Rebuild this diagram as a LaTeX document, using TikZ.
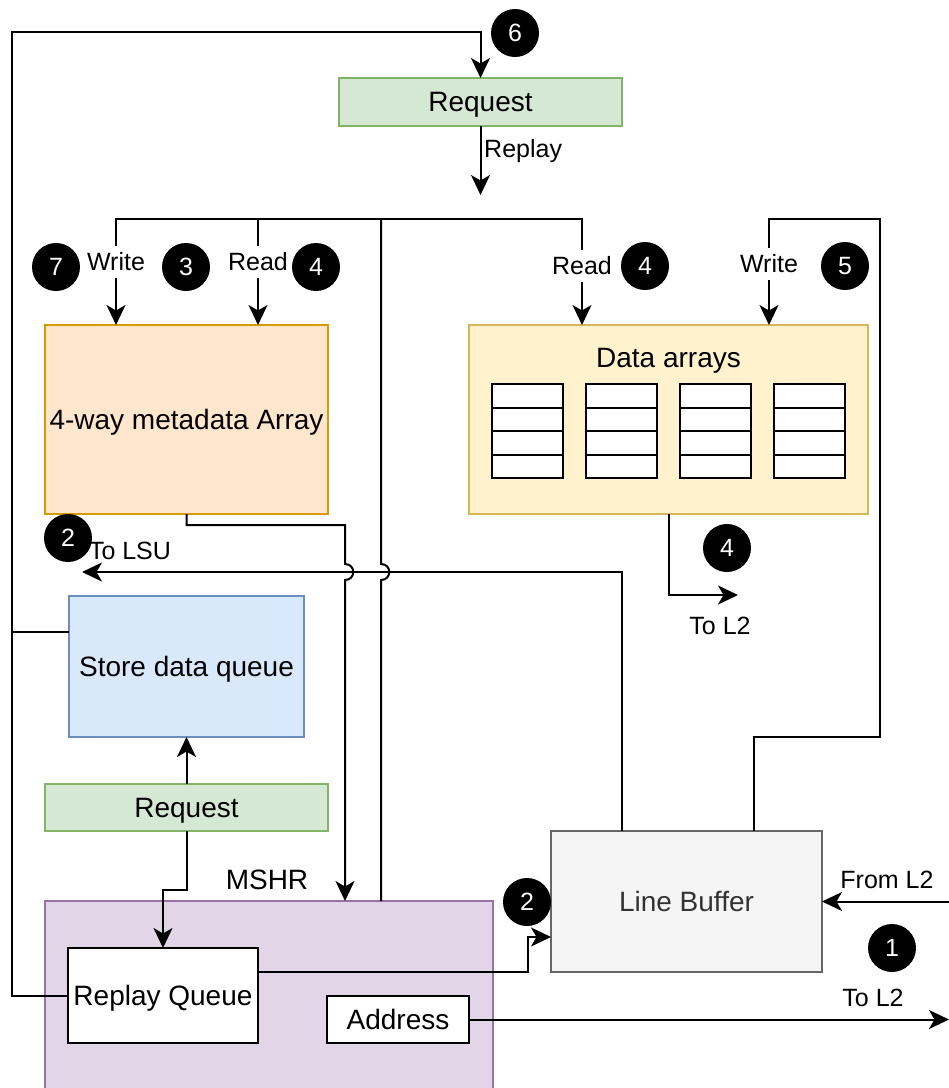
\documentclass[tikz,border=0pt]{standalone}
\usepackage{fontspec}
\setmainfont{Liberation Sans}
\usetikzlibrary{arrows.meta,calc}

\definecolor{grnF}{HTML}{D5E8D4}\definecolor{grnD}{HTML}{82B366}
\definecolor{orgF}{HTML}{FFE6CC}\definecolor{orgD}{HTML}{D79B00}
\definecolor{ylwF}{HTML}{FFF2CC}\definecolor{ylwD}{HTML}{D6B656}
\definecolor{bluF}{HTML}{DAE8FC}\definecolor{bluD}{HTML}{6C8EBF}
\definecolor{prpF}{HTML}{E1D5E7}\definecolor{prpD}{HTML}{9673A6}
\definecolor{gryF}{HTML}{F5F5F5}\definecolor{gryD}{HTML}{666666}
\definecolor{gryT}{HTML}{333333}

\newcommand{\mainsz}{\fontsize{28}{34}\selectfont}
\newcommand{\lblsz}{\fontsize{25}{30}\selectfont}

\begin{document}
\begin{tikzpicture}[x=1pt,y=-1pt,
  % line-box metrics (ascent/descent) of the two text sizes
  bigline/.style={font=\mainsz, text height=25.3pt, text depth=5.9pt},
  smallline/.style={font=\lblsz, text height=22.6pt, text depth=5.3pt},
  box/.style={draw, line width=2pt, inner sep=0pt, outer sep=0pt, bigline},
  wire/.style={line width=2pt},
  arr/.style={wire, -{Stealth[length=20pt,width=19pt,inset=5.5pt]}},
  tag/.style={smallline, inner sep=1pt},
  onwire/.style={tag, fill=white, inner xsep=2pt, inner ysep=2pt},
  badge/.style={circle, fill=black, text=white, minimum size=48pt, inner sep=0pt, smallline}
]
\useasboundingbox (0,0) rectangle (949,1088);
\clip (0,0) rectangle (949,1088);

% ---- blocks ----
\node[box, fill=grnF, draw=grnD, minimum width=283pt, minimum height=48pt] (reqTop) at (480.5,102) {Request};
\node[box, fill=orgF, draw=orgD, minimum width=283pt, minimum height=189pt] (meta) at (186.5,419.5) {4-way metadata Array};
\node[box, fill=ylwF, draw=ylwD, minimum width=399pt, minimum height=189pt] (data) at (668.5,419.5) {};
\node[bigline, inner sep=0pt] (dataTitle) at (668.5,358) {Data arrays};
\foreach \x in {492,586,680,774}{
  \draw[line width=2pt, fill=white] (\x,384) rectangle (\x+71,478);
  \foreach \y in {407.5,431,454.5}{\draw[line width=2pt] (\x,\y) -- (\x+71,\y);}
}
\node[box, fill=bluF, draw=bluD, minimum width=235pt, minimum height=141pt] (sdq) at (186.5,666.5) {Store data queue};
\node[box, fill=grnF, draw=grnD, minimum width=283pt, minimum height=47pt] (reqLow) at (186.5,807.5) {Request};
\node[box, fill=prpF, draw=prpD, minimum width=448pt, minimum height=210pt] (mshr) at (269,1006) {};
\node[bigline, inner sep=0pt] (mshrLbl) at (267,880) {MSHR};
\node[box, fill=white, draw=black, minimum width=190pt, minimum height=95pt] (rq) at (163,995.5) {Replay Queue};
\node[box, fill=white, draw=black, minimum width=142pt, minimum height=47pt] (addr) at (398,1019.5) {Address};
\node[box, fill=gryF, draw=gryD, text=gryT, minimum width=271pt, minimum height=141pt] (lb) at (686.5,901.5) {Line Buffer};

% ---- free ends and corners ----
\coordinate (loopTL) at (12,32);
\coordinate (replayEnd) at (480.5,195);
\coordinate (busJ) at (381,219);
\coordinate (lsuEnd) at (82,572);
\coordinate (dataL2) at (738,595);
\coordinate (wbR) at (880,219);
\coordinate (fromL2) at (949,901.5);
\coordinate (toL2) at (949,1019.5);

% ---- connectors ----
% replay loop back to the request
\draw[arr] (rq.west) -| (loopTL) -| (reqTop.north);
\draw[wire] ($(sdq.north west)+(0,36)$) -- ($(loopTL |- sdq.north west)+(0,36)$);
\draw[arr] (reqTop.south) -- (replayEnd);

% bus from the MSHR to the arrays (hops over the LSU line)
\draw[wire] ($(mshr.north west)+(336,0)$) -- (381,580) .. controls (392,580) and (392,564) .. (381,564) -- (busJ);
\draw[arr] (busJ) -| ($(meta.north west)+(71,0)$);
\draw[arr] (busJ) -| ($(meta.north west)+(213,0)$);
\draw[arr] (busJ) -| ($(data.north west)+(113,0)$);

% metadata result into the MSHR
\draw[arr] (meta.south) -- ++(0,11) -| (345,564) .. controls (356,564) and (356,580) .. (345,580) -- ($(mshr.north west)+(300,0)$);

% line buffer to the LSU
\draw[arr] ($(lb.north west)+(71,0)$) |- (lsuEnd);

% data arrays to L2
\draw[arr] (data.south) |- (dataL2);

% line buffer write-back into the data arrays
\draw[arr] ($(lb.north west)+(203,0)$) -- ++(0,-94) -| (wbR) -| ($(data.north west)+(300,0)$);

% store path
\draw[arr] (reqLow.north) -- (sdq.south);
\draw[arr] (reqLow.south) -- ++(0,59) -| (rq.north);

% replay queue to the line buffer
\draw[arr] ($(rq.north east)+(0,24)$) -| ($(lb.north west)+(-23,106)$) -- ($(lb.north west)+(0,106)$);

% L2 traffic
\draw[arr] (fromL2) -- (lb.east);
\draw[arr] (addr.east) -- (toL2);

% ---- labels ----
\node[tag, anchor=west] (replayLbl) at (483,149) {Replay};
\node[onwire] (wrMeta) at (116,262) {Write};
\node[onwire] (rdMeta) at (258,262) {Read};
\node[onwire] (rdData) at (582,266) {Read};
\node[onwire] (wrData) at (769,264) {Write};
\node[tag] (lsuLbl) at (130,551) {To LSU};
\node[tag] (l2LblA) at (720,626) {To L2};
\node[tag] (fromLbl) at (887,880) {From L2};
\node[tag] (l2LblB) at (873,998) {To L2};

% ---- step markers ----
\node[badge] (s6) at (515,33) {6};
\node[badge] (s7) at (56,267) {7};
\node[badge] (s3) at (186,267) {3};
\node[badge] (s4a) at (316,267) {4};
\node[badge] (s4b) at (645,266) {4};
\node[badge] (s5) at (845,266) {5};
\node[badge] (s4c) at (727,548) {4};
\node[badge] (s2a) at (68,538) {2};
\node[badge] (s2b) at (527,902) {2};
\node[badge] (s1) at (892,948) {1};
\end{tikzpicture}
\end{document}
